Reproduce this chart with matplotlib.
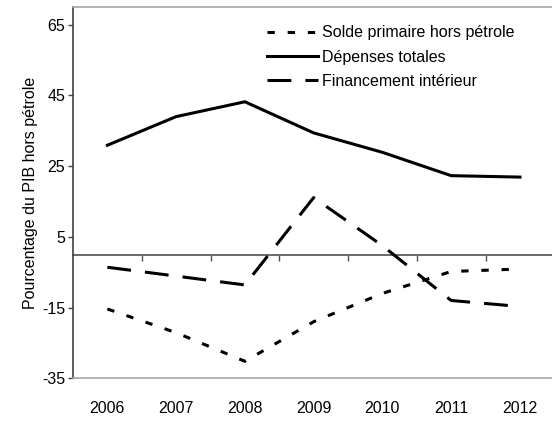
import numpy as np
import matplotlib
matplotlib.use("Agg")
import matplotlib.pyplot as plt

plt.rcParams['font.family'] = ['Liberation Sans', 'DejaVu Sans']
plt.rcParams['axes.unicode_minus'] = False

# Data
years = ["2006", "2007", "2008", "2009", "2010", "2011", "2012"]
solde_primaire = [-15.4, -22.1, -30.2, -19.0, -11.0, -4.8, -4.1]
depenses_totales = [30.9, 39.0, 43.2, 34.4, 28.9, 22.3, 21.9]
financement_interieur = [-3.6, -6.1, -8.6, 16.1, 2.5, -13.0, -14.7]
yticks = [-35, -15, 5, 25, 45, 65]

fs = 11.5

fig = plt.figure(figsize=(5.52, 4.22), dpi=100)
ax = fig.add_axes([0.1322, 0.1036, 0.872, 0.8798])

x = np.arange(len(years))
lw = 2.2
ax.plot(x, solde_primaire, color='black', lw=lw, dashes=(2.4, 4.2),
        label='Solde primaire hors pétrole')
ax.plot(x, depenses_totales, color='black', lw=lw, solid_joinstyle='miter',
        label='Dépenses totales')
ax.plot(x, financement_interieur, color='black', lw=lw, dashes=(7.8, 4.6),
        label='Financement intérieur')

ax.set_xlim(-0.5, len(years) - 0.5)
ax.set_ylim(-35, 70)
ax.set_yticks(yticks)
ax.set_xticks(x)
ax.set_xticklabels(years)

# frame
for side in ['top', 'bottom', 'right']:
    ax.spines[side].set_color('#a6a6a6')
    ax.spines[side].set_linewidth(1.2)
ax.spines['left'].set_color('#404040')
ax.spines['left'].set_linewidth(1.2)

ax.tick_params(axis='y', direction='out', length=3.5, width=1, color='#404040',
               labelsize=fs, pad=2)
ax.tick_params(axis='x', length=0, labelsize=fs, pad=16)

# category axis crossing at zero, tick marks between categories
sec = ax.secondary_xaxis(0, transform=ax.transData)
sec.set_xticks(x[:-1] + 0.5)
sec.set_xticklabels([])
sec.tick_params(direction='out', length=4, width=1, color='#505050')
sec.spines['bottom'].set_color('#505050')
sec.spines['bottom'].set_linewidth(1.2)

ax.set_ylabel('Pourcentage du PIB hors pétrole', fontsize=fs, labelpad=3)

ax.legend(loc='upper left', bbox_to_anchor=(0.379, 0.981), frameon=False,
          fontsize=fs, handlelength=3.25, handletextpad=0.25,
          labelspacing=0.58, borderaxespad=0.3)

fig.savefig('out.png', dpi=100)
